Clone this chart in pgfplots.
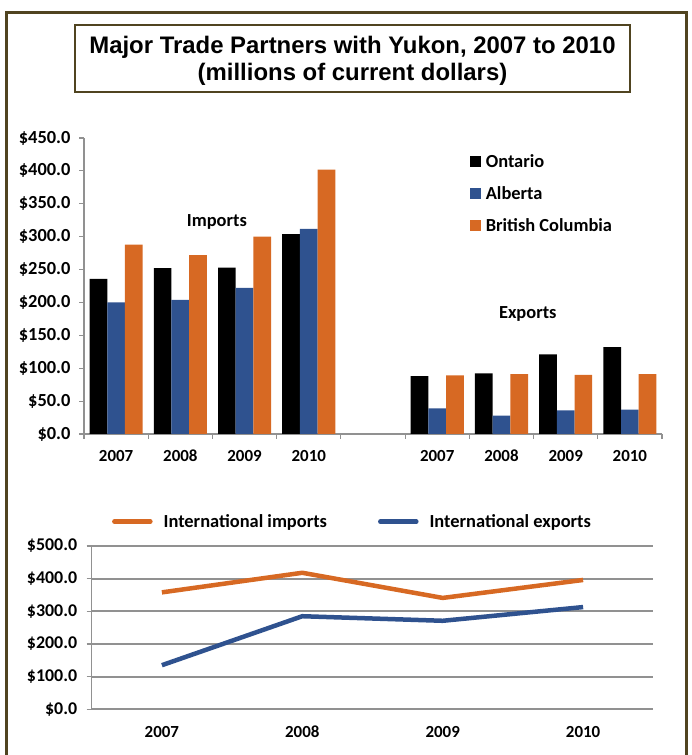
\documentclass[border=0pt]{standalone}
\usepackage{fontspec}
\setmainfont{Carlito}
\newfontfamily\arialfont{Liberation Sans}
\usepackage{pgfplots}
\pgfplotsset{compat=1.18}
\definecolor{ontario}{RGB}{0,0,0}
\definecolor{alberta}{RGB}{47,82,143}
\definecolor{bcol}{RGB}{215,105,35}
\definecolor{frame}{RGB}{80,68,32}
\definecolor{axgray}{RGB}{145,145,145}

\begin{document}
\begin{tikzpicture}[x=1bp,y=1bp]
\useasboundingbox (0,0) rectangle (692,755);
% outer frame and title box
\draw[frame, line width=3bp] (6.5,-20) -- (6.5,742.5) -- (686,742.5) -- (686,-20);
\draw[frame, line width=2.5bp, fill=white] (75,730) rectangle (630,663);
\node[align=center, font=\arialfont\bfseries\fontsize{24}{26.5}\selectfont] at (352.5,694)
  {Major Trade Partners with Yukon, 2007 to 2010\\(millions of current dollars)};

% provincial partners
\begin{axis}[
    at={(84bp,321bp)}, anchor=south west,
    scale only axis, width=578bp, height=296bp,
    xmin=-0.5, xmax=8.5, ymin=0, ymax=450,
    ybar=0pt, bar width=17.7bp,
    axis lines*=left,
    axis line style={axgray, line width=1.5bp},
    tick style={axgray, line width=1.2bp},
    tick align=outside,
    major tick length=5bp, minor tick length=5bp,
    xtick={0,1,2,3,5,6,7,8},
    xticklabels={2007,2008,2009,2010,2007,2008,2009,2010},
    minor xtick={-0.5,0.5,...,8.5},
    major x tick style={draw=none},
    ytick={0,50,...,450},
    yticklabels={\$0.0,\$50.0,\$100.0,\$150.0,\$200.0,\$250.0,\$300.0,\$350.0,\$400.0,\$450.0},
    yticklabel style={font=\bfseries\fontsize{18.5}{20}\selectfont, xshift=-5bp},
    xticklabel style={font=\bfseries\fontsize{17}{19}\selectfont, text height=11.5bp, text depth=0pt, yshift=-7bp},
    every axis plot post/.append style={legend image code/.code={\fill[##1] (0bp,-5bp) rectangle (10.5bp,5.5bp);}},
    legend style={at={(0.668,0.945)}, anchor=north west, draw=none, fill=none,
      font=\bfseries\fontsize{18.5}{20}\selectfont, row sep=17.5bp, inner sep=0pt,
      nodes={inner sep=0pt},
      /tikz/every odd column/.append style={column sep=5bp}},
    legend cell align=left,
]
\addplot[fill=ontario, draw=none] coordinates {(0,236) (1,252) (2,253) (3,304) (5,88) (6,92) (7,121) (8,132)};
\addplot[fill=alberta, draw=none] coordinates {(0,200) (1,204) (2,222) (3,312) (5,39) (6,28) (7,36) (8,37)};
\addplot[fill=bcol, draw=none] coordinates {(0,288) (1,272) (2,300) (3,402) (5,89) (6,91) (7,90) (8,91)};
\legend{Ontario, Alberta, British Columbia}
\node[font=\bfseries\fontsize{18.5}{20}\selectfont] at (axis cs:1.57,323) {Imports};
\node[font=\bfseries\fontsize{18.5}{20}\selectfont] at (axis cs:6.41,182) {Exports};
\end{axis}

% international trade
\begin{axis}[
    at={(91.7bp,45.7bp)}, anchor=south west,
    scale only axis, width=561.6bp, height=163.3bp,
    xmin=0.5, xmax=4.5, ymin=0, ymax=500,
    axis lines*=left,
    axis line style={axgray, line width=1.5bp},
    tick style={axgray, line width=1.2bp},
    tick align=outside,
    major tick length=5bp,
    major x tick style={draw=none},
    xtick={1,2,3,4}, xticklabels={2007,2008,2009,2010},
    ytick={0,100,...,500},
    yticklabels={\$0.0,\$100.0,\$200.0,\$300.0,\$400.0,\$500.0},
    ymajorgrids, grid style={axgray, line width=1.8bp},
    yticklabel style={font=\bfseries\fontsize{18}{20}\selectfont, xshift=-6bp},
    xticklabel style={font=\bfseries\fontsize{17}{19}\selectfont, text height=11.5bp, text depth=0pt, yshift=-8bp},
    legend columns=2,
    legend image code/.code={\draw[#1, line width=4.5bp, line cap=round] (0bp,0bp) -- (36bp,0bp);},
    legend style={at={(0.036,1.149)}, anchor=west, draw=none, fill=none,
      font=\bfseries\fontsize{18.5}{20}\selectfont, inner sep=0pt, nodes={inner sep=0pt},
      /tikz/every odd column/.append style={column sep=11bp},
      /tikz/every even column/.append style={column sep=51bp}},
]
\addplot[bcol, line width=4.5bp] coordinates {(1,358) (2,418) (3,341) (4,396)};
\addplot[alberta, line width=4.5bp] coordinates {(1,135) (2,285) (3,271) (4,313)};
\legend{International imports, International exports}
\end{axis}
\end{tikzpicture}
\end{document}
